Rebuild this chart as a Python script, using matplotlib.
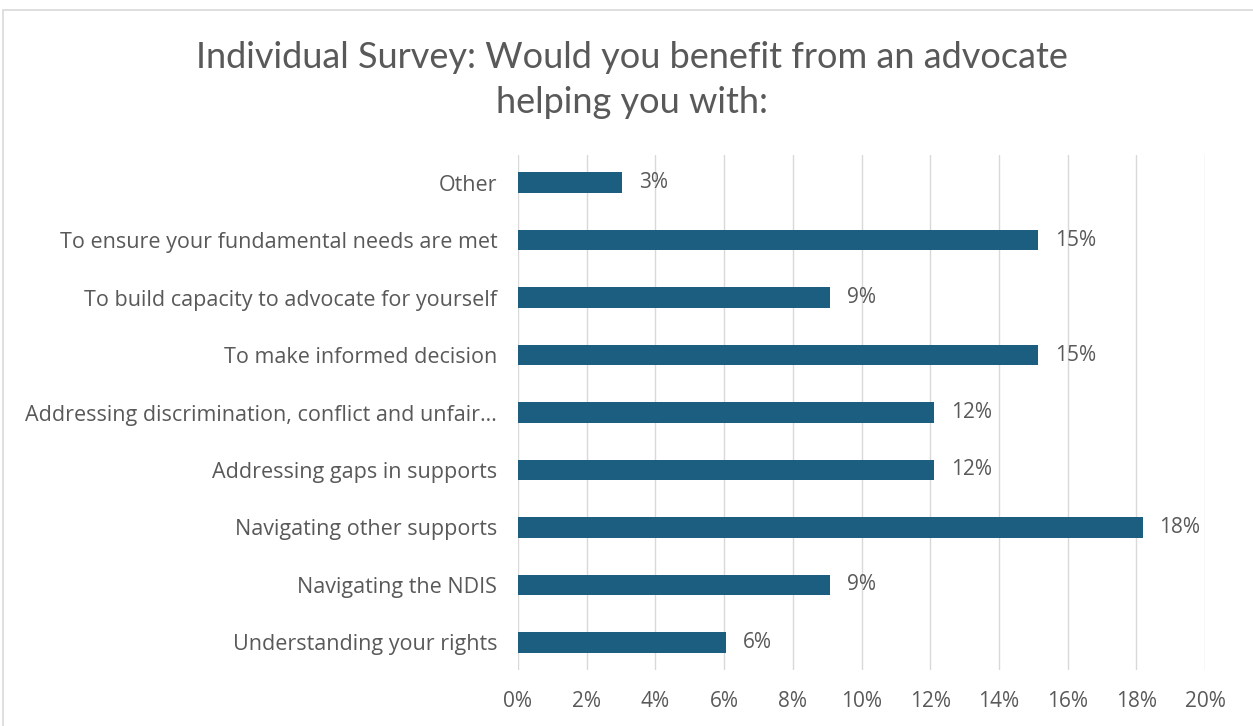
import numpy as np
import matplotlib.pyplot as plt
from matplotlib.patches import Rectangle

# survey responses (out of 33), bottom to top
categories = ["Understanding your rights", "Navigating the NDIS", "Navigating other supports",
              "Addressing gaps in supports", "Addressing discrimination, conflict and unfair\u2026",
              "To make informed decision", "To build capacity to advocate for yourself",
              "To ensure your fundamental needs are met", "Other"]
counts = [2, 3, 6, 4, 4, 5, 3, 5, 1]
total = 33
pct = [c / total * 100 for c in counts]
xticks = [0, 2, 4, 6, 8, 10, 12, 14, 16, 18, 20]

plt.rcParams['font.family'] = ['Open Sans', 'DejaVu Sans']

fig = plt.figure(figsize=(12.53, 7.26), dpi=100)
ax = fig.add_axes([0.4134, 0.0771, 0.5483, 0.7094])

y = np.arange(len(categories))
ax.barh(y, pct, height=0.36, color="#1B5E80", zorder=3)

for yi, p in zip(y, pct):
    ax.text(p + 0.48, yi, "{:.0f}%".format(p), va="center", ha="left",
            fontsize=15, color="#595959")

ax.set_xlim(0, 20)
ax.set_ylim(-0.48, 8.48)
ax.set_xticks(xticks)
ax.set_xticklabels(["{}%".format(t) for t in xticks], fontsize=15, color="#595959")
ax.set_yticks(y)
ax.set_yticklabels(categories, fontsize=15.5, color="#595959")
ax.tick_params(axis="both", length=0)
ax.tick_params(axis="y", pad=15)
ax.tick_params(axis="x", pad=15)
ax.grid(axis="x", color="#D9D9D9", linewidth=1, zorder=0)
for s in ax.spines.values():
    s.set_visible(False)

fig.text(0.504, 0.89, "Individual Survey: Would you benefit from an advocate\nhelping you with:",
         ha="center", va="center", fontsize=26, color="#595959", linespacing=1.45,
         family=['Lato', 'DejaVu Sans'])

# chart border
fig.patches.append(Rectangle((3 / 1253, -0.01), 1.1, 1 - 10 / 726 + 0.01,
                             transform=fig.transFigure, fill=False,
                             edgecolor="#D9D9D9", linewidth=1.2))

fig.savefig("out.png", dpi=100)
